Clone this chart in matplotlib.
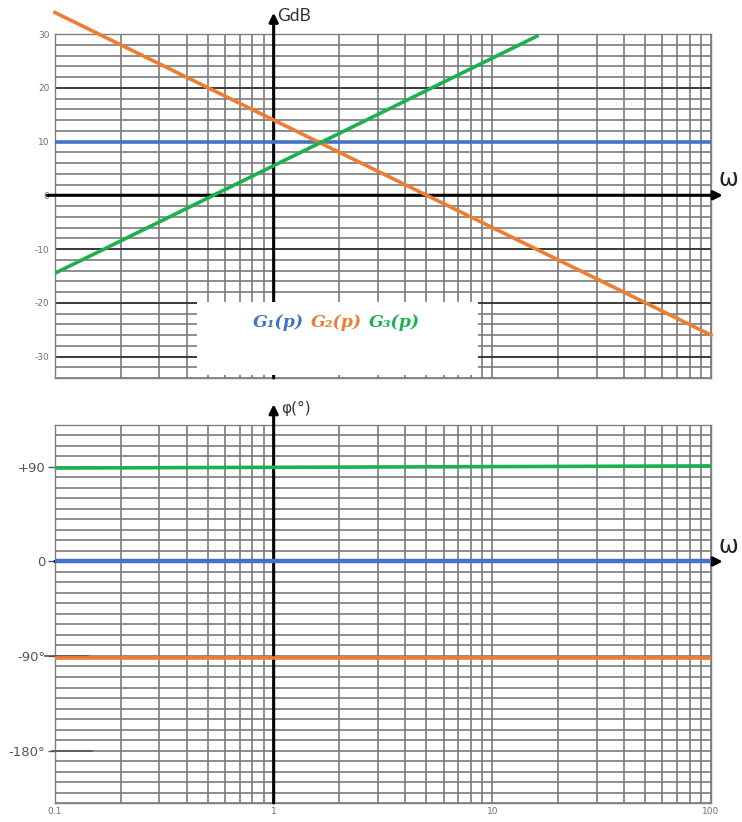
import matplotlib
matplotlib.use("Agg")
import matplotlib.pyplot as plt
from matplotlib.ticker import LogLocator, MultipleLocator, NullFormatter, FixedLocator
from matplotlib.patches import Rectangle
from matplotlib.offsetbox import TextArea, HPacker, AnnotationBbox

plt.rcParams['axes.unicode_minus'] = False

# data
omega_G1 = [0.1, 100]
gain_G1 = [10, 10]
omega_G2 = [0.1, 100]
gain_G2 = [34, -26]
omega_G3 = [0.1, 16]
gain_G3 = [-14.5, 29.6]

omega_phase = [0.1, 100]
phase_G1 = [0, 0]
phase_G2 = [-92, -92]
phase_G3 = [89, 91]

gain_ticks = [-30, -20, -10, 0, 10, 20, 30]
phase_ticks = [90, 0, -90, -180]
phase_labels = ['+90', '0', '-90°', '-180°']
freq_ticks = [0.1, 1, 10, 100]
freq_labels = ['0.1', '1', '10', '100']

blue = '#4472C4'
orange = '#ED7D31'
green = '#1DB04F'
grid_c = '#7a7a7a'

fig = plt.figure(figsize=(7.42, 8.22), dpi=100)
ax1 = fig.add_axes([0.0741, 0.5401, 0.8841, 0.4185])
ax2 = fig.add_axes([0.0741, 0.0231, 0.8841, 0.4599])

for ax in (ax1, ax2):
    ax.set_xscale('log')
    ax.set_xlim(0.1, 100)
    ax.xaxis.set_major_locator(FixedLocator(freq_ticks))
    ax.xaxis.set_minor_locator(LogLocator(base=10, subs=range(2, 10)))
    ax.xaxis.set_minor_formatter(NullFormatter())
    ax.xaxis.grid(True, which='both', color=grid_c, lw=1.2)
    ax.tick_params(axis='x', which='both', length=0)
    for s in ax.spines.values():
        s.set_color('#808080')
        s.set_linewidth(1.0)
    ax.set_axisbelow(True)

# ---- gain plot
ax1.set_ylim(-34, 30)
ax1.set_yticks(gain_ticks)
ax1.yaxis.set_minor_locator(MultipleLocator(2))
ax1.yaxis.grid(True, which='minor', color=grid_c, lw=1.2)
ax1.yaxis.grid(True, which='major', color='#3a3a3a', lw=1.4)
ax1.set_xticklabels([])
ax1.tick_params(axis='y', which='both', length=0, labelsize=6.5, labelcolor='#707070', pad=4)

ax1.plot(omega_G1, gain_G1, color=blue, lw=2.6, zorder=5)
ax1.plot(omega_G2, gain_G2, color=orange, lw=2.6, zorder=5, clip_on=False)
ax1.plot(omega_G3, gain_G3, color=green, lw=2.6, zorder=5)

arrow = dict(arrowstyle='-|>', lw=2.2, color='black', mutation_scale=13, shrinkA=0, shrinkB=0)
ax1.annotate('', xy=(1, 1.062), xycoords=('data', 'axes fraction'),
             xytext=(1, 0), textcoords=('data', 'axes fraction'),
             arrowprops=arrow, annotation_clip=False, zorder=3)
ax1.annotate('', xy=(1.018, 0), xycoords=('axes fraction', 'data'),
             xytext=(-0.012, 0), textcoords=('axes fraction', 'data'),
             arrowprops=arrow, annotation_clip=False, zorder=3)

# white box with the names
ax1.add_patch(Rectangle((0.2165, 0.008), 0.4283, 0.212, transform=ax1.transAxes,
                        facecolor='white', edgecolor='none', zorder=4))
names = [('G₁(p)', blue), ('G₂(p)', orange), ('G₃(p)', green)]
parts = [TextArea(t, textprops=dict(color=c, fontsize=12.5, fontweight='bold',
                                     fontstyle='italic', family='DejaVu Serif'))
         for t, c in names]
box = HPacker(children=parts, align='center', pad=0, sep=5)
ab = AnnotationBbox(box, (0.429, 0.16), xycoords='axes fraction', frameon=False,
                    box_alignment=(0.5, 0.5), zorder=6)
ax1.add_artist(ab)

# ---- phase plot
ax2.set_ylim(-230, 130)
ax2.set_yticks(phase_ticks)
ax2.set_yticklabels(phase_labels)
ax2.yaxis.set_minor_locator(MultipleLocator(10))
ax2.yaxis.grid(True, which='both', color=grid_c, lw=1.2)
ax2.set_xticklabels(freq_labels)
ax2.tick_params(axis='y', which='major', length=5, width=1, color='#555555',
                labelsize=9.5, labelcolor='#555555', pad=2)
ax2.tick_params(axis='y', which='minor', length=0)
ax2.tick_params(axis='x', labelsize=6.5, labelcolor='#707070', pad=3)

ax2.plot(omega_phase, phase_G3, color=green, lw=2.6, zorder=5)
ax2.plot(omega_phase, phase_G1, color=blue, lw=3.2, zorder=5)
ax2.plot(omega_phase, phase_G2, color=orange, lw=2.6, zorder=5)

# long dashes at -90 and -180
ytr = ax2.get_yaxis_transform()
ax2.plot([-0.015, 0.05], [phase_ticks[2]] * 2, color='#555555', lw=1.2,
         transform=ytr, clip_on=False, zorder=4)
ax2.plot([-0.005, 0.056], [phase_ticks[3]] * 2, color='#555555', lw=1.2,
         transform=ytr, clip_on=False, zorder=4)

ax2.annotate('', xy=(1, 1.055), xycoords=('data', 'axes fraction'),
             xytext=(1, 0), textcoords=('data', 'axes fraction'),
             arrowprops=arrow, annotation_clip=False, zorder=3)
ax2.annotate('', xy=(1.018, 0), xycoords=('axes fraction', 'data'),
             xytext=(0, 0), textcoords=('axes fraction', 'data'),
             arrowprops=arrow, annotation_clip=False, zorder=3)

# axis names
fig.text(277 / 742, 1 - 16 / 822, 'GdB', fontsize=12.5, color='#333333',
         family='Lato', ha='left', va='center')
fig.text(281 / 742, 1 - 408 / 822, 'φ(°)', fontsize=11, color='#333333',
         ha='left', va='center')
fig.text(728 / 742, 1 - 179 / 822, 'ω', fontsize=17, color='#222222',
         ha='center', va='center')
fig.text(728 / 742, 1 - 546 / 822, 'ω', fontsize=17, color='#222222',
         ha='center', va='center')

fig.savefig('out.png', dpi=100)
